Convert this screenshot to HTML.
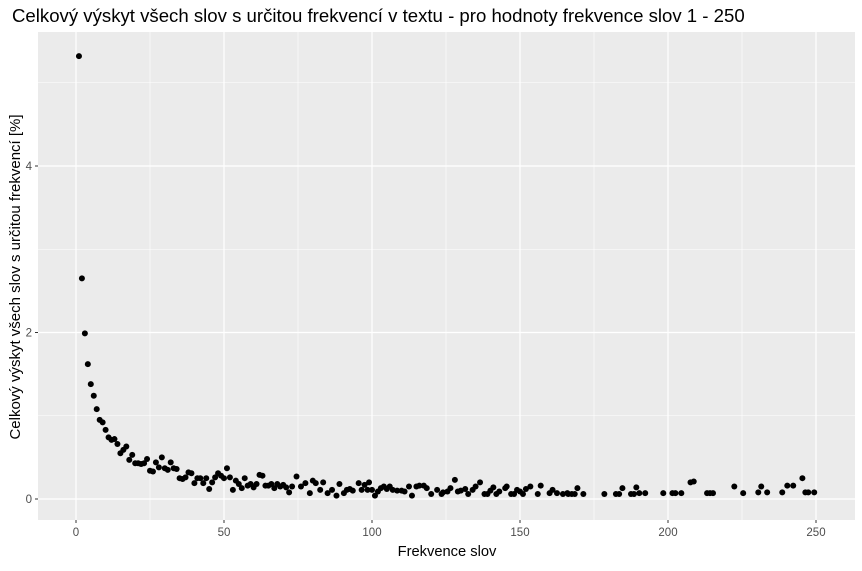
<!DOCTYPE html>
<html><head><meta charset="utf-8"><style>
body{margin:0;background:#fff;font-family:"Liberation Sans",sans-serif}
</style></head><body>
<svg id="chart" width="862" height="566" xmlns="http://www.w3.org/2000/svg">
<rect width="862" height="566" fill="#fff"/>
<text x="12" y="22" font-size="18.6" fill="#000">Celkový výskyt všech slov s určitou frekvencí v textu - pro hodnoty frekvence slov 1 - 250</text>
<rect x="38" y="32" width="817" height="488" fill="#ebebeb"/>
<g id="grid"></g><g id="pts"></g><g id="axes"></g>
<text x="447" y="556" font-size="14.7" text-anchor="middle" fill="#000">Frekvence slov</text>
<text transform="translate(20,277) rotate(-90)" font-size="15" text-anchor="middle" fill="#000">Celkový výskyt všech slov s určitou frekvencí [%]</text>
</svg>
<script>
const xs=[1,2,3,4,5,6,7,8,9,10,11,12,13,14,15,16,17,18,19,20,21,22,23,24,25,26,27,28,29,30,31,32,33,34,35,36,37,38,39,40,41,42,43,44,45,46,47,48,49,50,51,52,53,54,55,56,57,58,59,60,61,62,63,64,65,66,67,68,69,70,71,72,73,74.5,76,77.5,79,80,81,82.5,83.5,85,86.5,88,89,90.5,91.5,92.5,93.5,95.5,96.5,97.5,98.5,99,100,101,102,103,104,105,106,107,108.5,110,111,112.5,113.5,115,116,117.5,118.5,120,122,123.5,124,125.5,126.5,128,129,130,131.5,132.5,134,135,136.5,138,139,140,141,142,143,145,145.5,147,148,149,150,151,152,153.5,156,157,160,161,162.5,164.5,166,166.3,167.5,168.5,169.4,171.4,178.5,182.4,183.5,184.6,187.5,188.5,189.3,190.3,192.3,198.4,201.5,202.5,204.5,207.6,208.7,213.2,214.2,215.2,222.4,225.4,230.5,231.5,233.5,238.6,240.3,242.3,245.4,246.4,247.4,249.4];
const ys=[5.32,2.65,1.99,1.62,1.38,1.24,1.08,0.95,0.92,0.83,0.74,0.71,0.72,0.66,0.55,0.59,0.63,0.47,0.53,0.43,0.43,0.42,0.43,0.48,0.34,0.33,0.44,0.38,0.50,0.37,0.35,0.44,0.37,0.36,0.25,0.24,0.26,0.32,0.31,0.19,0.25,0.25,0.19,0.25,0.12,0.2,0.26,0.31,0.28,0.25,0.37,0.26,0.11,0.22,0.18,0.13,0.25,0.16,0.18,0.14,0.18,0.29,0.28,0.16,0.16,0.18,0.13,0.18,0.15,0.17,0.14,0.08,0.15,0.27,0.15,0.19,0.07,0.22,0.19,0.11,0.2,0.07,0.11,0.04,0.18,0.07,0.11,0.12,0.1,0.19,0.11,0.17,0.11,0.2,0.11,0.04,0.09,0.13,0.15,0.12,0.15,0.11,0.1,0.1,0.09,0.15,0.04,0.15,0.16,0.16,0.13,0.06,0.11,0.06,0.08,0.09,0.13,0.23,0.09,0.1,0.12,0.06,0.11,0.15,0.2,0.06,0.06,0.1,0.14,0.06,0.09,0.13,0.15,0.06,0.06,0.11,0.09,0.06,0.12,0.15,0.06,0.16,0.07,0.11,0.07,0.06,0.07,0.06,0.06,0.06,0.13,0.06,0.06,0.06,0.06,0.13,0.06,0.06,0.14,0.07,0.07,0.07,0.07,0.07,0.07,0.2,0.21,0.07,0.07,0.07,0.15,0.07,0.08,0.15,0.08,0.08,0.16,0.16,0.25,0.08,0.08,0.08];
const xTicks=[0,50,100,150,200,250];
const yTicks=[0,2,4];
const NS="http://www.w3.org/2000/svg";
const X=v=>76+v*2.96, Y=v=>499-v*83.25;
function mk(t,a,p){const e=document.createElementNS(NS,t);for(const k in a)e.setAttribute(k,a[k]);p.appendChild(e);return e;}
const grid=document.getElementById('grid'),axes=document.getElementById('axes'),pts=document.getElementById('pts');
for(let v=25;v<=250;v+=50){const l=mk('line',{x1:X(v),x2:X(v),y1:32,y2:520,stroke:'#fff','stroke-width':0.6},grid);

}
for(let v=1;v<=5;v+=2){const l=mk('line',{x1:38,x2:855,y1:Y(v),y2:Y(v),stroke:'#fff','stroke-width':0.6},grid);

}
xTicks.forEach(v=>{const l=mk('line',{x1:X(v),x2:X(v),y1:32,y2:520,stroke:'#fff','stroke-width':1.2},grid);


const tk=mk('line',{x1:X(v),x2:X(v),y1:520,y2:523,stroke:'#333','stroke-width':1},axes);


const t=mk('text',{x:X(v),y:536,'font-size':11.5,'text-anchor':'middle',fill:'#4d4d4d'},axes);t.textContent=v;

});
yTicks.forEach(v=>{const l=mk('line',{x1:38,x2:855,y1:Y(v),y2:Y(v),stroke:'#fff','stroke-width':1.2},grid);


const tk=mk('line',{x1:35,x2:38,y1:Y(v),y2:Y(v),stroke:'#333','stroke-width':1},axes);


const t=mk('text',{x:32,y:Y(v)+4,'font-size':11.5,'text-anchor':'end',fill:'#4d4d4d'},axes);t.textContent=v;

});
xs.forEach((x,i)=>{const c=mk('circle',{cx:X(x),cy:Y(ys[i]),r:3,fill:'#000'},pts);

});
</script>
</body></html>
